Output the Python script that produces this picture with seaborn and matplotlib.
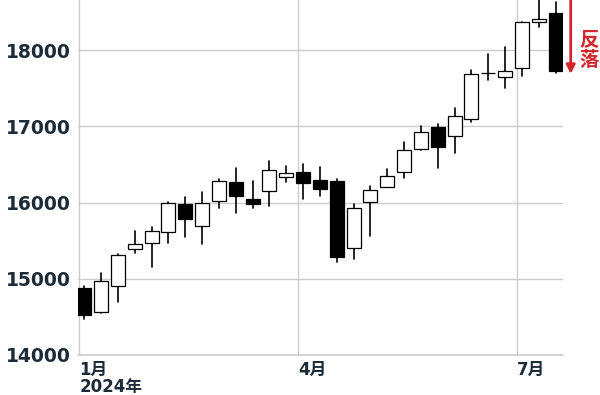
import matplotlib
matplotlib.use("Agg")
import numpy as np
import pandas as pd
import matplotlib.pyplot as plt
import matplotlib.dates as mdates
import seaborn as sns

# ---- data: weekly candles (week mid-point) ----
weeks = ["2024-01-03", "2024-01-10", "2024-01-17", "2024-01-24", "2024-01-31",
         "2024-02-07", "2024-02-14", "2024-02-21", "2024-02-28", "2024-03-06",
         "2024-03-13", "2024-03-20", "2024-03-27", "2024-04-03", "2024-04-10",
         "2024-04-17", "2024-04-24", "2024-05-01", "2024-05-08", "2024-05-15",
         "2024-05-22", "2024-05-29", "2024-06-05", "2024-06-12", "2024-06-19",
         "2024-06-26", "2024-07-03", "2024-07-10", "2024-07-17"]
opens = [14883, 14564, 14905, 15386, 15469, 15617, 15980, 15692, 16020, 16265,
         16050, 16155, 16329, 16400, 16295, 16282, 15403, 16002, 16207, 16400,
         16706, 16985, 16872, 17090, 17702, 17642, 17768, 18372, 18481]
highs = [14900, 15080, 15320, 15630, 15674, 16010, 16076, 16142, 16308, 16457,
         16282, 16544, 16483, 16500, 16470, 16308, 15976, 16216, 16439, 16798,
         17003, 17025, 17235, 17738, 17948, 18036, 18364, 18700, 18633]
lows = [14472, 14545, 14700, 15334, 15158, 15465, 15551, 15452, 15924, 15858,
        15924, 15954, 16274, 16046, 16085, 15224, 15262, 15561, 16200, 16325,
        16689, 16448, 16654, 17060, 17613, 17498, 17659, 18298, 17694]
closes = [14525, 14975, 15311, 15460, 15630, 15998, 15780, 15998, 16282, 16090,
          15980, 16426, 16391, 16251, 16181, 15285, 15932, 16164, 16348, 16689,
          16925, 16732, 17138, 17685, 17705, 17729, 18364, 18403, 17729]

yticks = [14000, 15000, 16000, 17000, 18000]
month_ticks = ["2024-01-01", "2024-04-01", "2024-07-01"]
month_labels = ["1月\n2024年", "4月", "7月"]
note_text = "反\n落"

# ---- style ----
sns.set_theme(style="white")
plt.rcParams["font.family"] = ["DejaVu Sans", "Noto Sans CJK JP"]

fig = plt.figure(figsize=(6, 3.95), dpi=100)
ax = fig.add_axes([78 / 600, 40 / 395, 485 / 600, 355 / 395])

x = mdates.date2num(pd.to_datetime(weeks))
o = np.array(opens, float)
c = np.array(closes, float)

# wicks via seaborn
wick_df = pd.DataFrame({
    "week": np.repeat(np.arange(len(weeks)), 2),
    "x": np.repeat(x, 2),
    "price": np.ravel(np.column_stack([lows, highs])),
})
sns.lineplot(data=wick_df, x="x", y="price", units="week", estimator=None,
             color="black", lw=1.2, ax=ax, legend=False, zorder=2)

# bodies
up = c >= o
body_h = np.abs(c - o)
body_b = np.minimum(o, c)
ax.bar(x, body_h, bottom=body_b, width=5.8,
       color=np.where(up, "white", "black"), edgecolor="black",
       linewidth=0.9, zorder=3)

left = mdates.date2num(pd.Timestamp("2024-01-01")) - 0.6
ax.set_xlim(left, left + 201.7)
ax.set_ylim(14000, 18656)

ax.set_yticks(yticks)
ax.set_yticklabels([str(v) for v in yticks], fontsize=13.5, fontweight="bold",
                   color="#1c2b38")
ax.set_xticks(mdates.date2num(pd.to_datetime(month_ticks)))
ax.set_xticklabels(month_labels, fontsize=12, fontweight="bold",
                   color="#1c2b38", ha="left", linespacing=0.9)
ax.set_xlabel("")
ax.set_ylabel("")

ax.grid(True, color="#cccccc", lw=1)
ax.axhline(14000, color="#cccccc", lw=1.2, clip_on=False, zorder=1)
ax.set_axisbelow(True)
for s in ax.spines.values():
    s.set_visible(False)
ax.tick_params(axis="both", length=4, width=1, color="#cccccc", pad=1.5)
ax.tick_params(axis="x", pad=0.5)

# annotation: arrow and text
ax.annotate("", xy=(570.7, 395 - 74), xytext=(570.7, 396),
            xycoords="figure pixels", textcoords="figure pixels",
            arrowprops=dict(arrowstyle="-|>", color="#d3262c", lw=2,
                            mutation_scale=13, shrinkA=0, shrinkB=0),
            annotation_clip=False)
fig.text(579 / 600, 1 - 30 / 395, note_text, ha="left", va="top",
         fontsize=14, fontweight="bold", color="#d3262c",
         family=["Noto Sans CJK JP"], linespacing=1.1)

fig.savefig("out.png", dpi=100)
